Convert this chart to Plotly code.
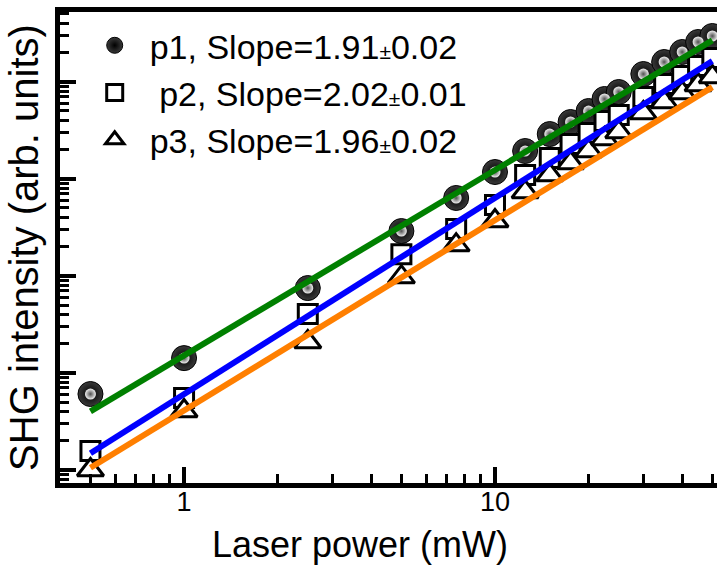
import plotly.graph_objects as go

# ---- data ----
power_mw = [0.5, 1, 2.5, 5, 7.5, 10, 12.5, 15, 17.5, 20, 22.5, 25, 30, 35, 40, 45, 50]
p1_shg = [6.06, 14.2, 74.8, 289, 633, 1172, 1928, 2884, 3837, 4978, 6620, 7816,
          11970, 15920, 20180, 25590, 29500]
p2_shg = [1.57, 5.52, 40.4, 167, 303, 536, 1091, 1633, 2277, 2955, 3930, 4530,
          6940, 9440, 11420, 14490, 17500]
p3_shg = [1.00, 4.05, 20.8, 97, 207, 367, 730, 1092, 1452, 1930, 2565, 3030,
          4750, 6170, 7640, 9230, 11170]

series_names = ["p1", "p2", "p3"]
fit_slopes = [1.91, 2.02, 1.96]
fit_errors = ["0.02", "0.01", "0.02"]
fit_prefactors = [15.1, 6.04, 4.10]
fit_x = [0.5, 50]
fit_colors = ["#008000", "#0000ff", "#ff7f00"]

FONT = "Liberation Sans, Arial, sans-serif"


def label(i):
    return (f"{series_names[i]}, Slope={fit_slopes[i]:.2f}"
            f"<span style='font-size:21px'>±</span>{fit_errors[i]}")


fig = go.Figure()

# p1: shaded spheres
fig.add_trace(go.Scatter(
    x=power_mw, y=p1_shg, mode="markers", name=label(0),
    marker=dict(symbol="circle", size=25, color="#3a3a3a",
                gradient=dict(type="radial", color="#000000"),
                line=dict(color="#000000", width=1)),
))
# p2: open squares
fig.add_trace(go.Scatter(
    x=power_mw, y=p2_shg, mode="markers", name="&nbsp;" + label(1),
    marker=dict(symbol="square", size=19, color="#ffffff",
                line=dict(color="#000000", width=3)),
))
# p3: open triangles
fig.add_trace(go.Scatter(
    x=power_mw, y=p3_shg, mode="markers", name=label(2),
    marker=dict(symbol="triangle-up", size=23, color="#ffffff",
                line=dict(color="#000000", width=3)),
))
# highlight on spheres
fig.add_trace(go.Scatter(
    x=power_mw, y=p1_shg, mode="markers", showlegend=False, hoverinfo="skip",
    marker=dict(symbol="circle", size=11, color="#f0f0f0",
                gradient=dict(type="radial", color="#505050"),
                line=dict(width=0)),
))

# fitted power-law lines
for i in range(3):
    fig.add_trace(go.Scatter(
        x=fit_x, y=[fit_prefactors[i] * v ** fit_slopes[i] for v in fit_x],
        mode="lines", showlegend=False, hoverinfo="skip",
        line=dict(color=fit_colors[i], width=6),
    ))

fig.update_layout(
    width=717, height=566,
    margin=dict(l=60, r=0, t=12, b=83),
    paper_bgcolor="white", plot_bgcolor="white",
    font=dict(family=FONT, color="black"),
    legend=dict(x=0.03, y=0.99, xanchor="left", yanchor="top",
                font=dict(size=34, family=FONT), itemwidth=60,
                bgcolor="rgba(0,0,0,0)", tracegroupgap=0, itemsizing="trace"),
    annotations=[dict(text="Laser power (mW)", xref="paper", yref="paper",
                      x=0.457, y=-0.131, xanchor="center", yanchor="middle",
                      showarrow=False, font=dict(size=36, family=FONT))],
)

fig.update_xaxes(
    type="log", range=[-0.399, 1.714],
    showgrid=False, zeroline=False,
    showline=True, linewidth=5, linecolor="black", mirror=True,
    ticks="inside", ticklen=16, tickwidth=4, tickcolor="black",
    dtick=1, tickfont=dict(size=27, family=FONT), ticklabelstandoff=-9,
    minor=dict(dtick="D1", ticks="inside", ticklen=9, tickwidth=3,
               tickcolor="black", showgrid=False),
)
fig.update_yaxes(
    type="log", range=[-0.134, 4.717],
    showgrid=False, zeroline=False,
    showline=True, linewidth=5, linecolor="black", mirror=False,
    ticks="inside", ticklen=16, tickwidth=4, tickcolor="black",
    dtick=1, showticklabels=False,
    minor=dict(dtick="D1", ticks="inside", ticklen=9, tickwidth=3,
               tickcolor="black", showgrid=False),
    title=dict(text="SHG intensity (arb. units)", font=dict(size=40, family=FONT),
               standoff=6),
)

fig.write_html("out.html")
